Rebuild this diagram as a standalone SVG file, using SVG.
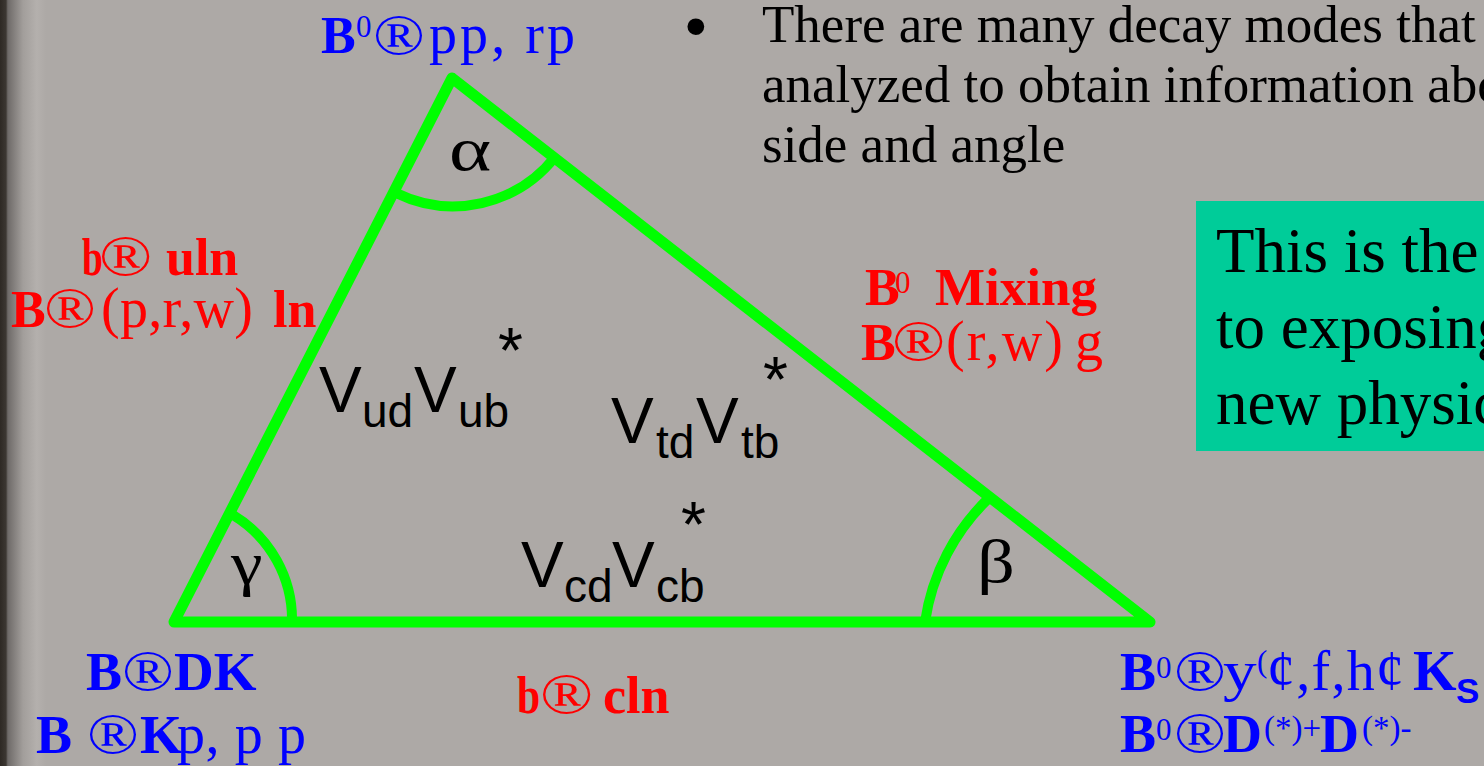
<svg xmlns="http://www.w3.org/2000/svg" width="1484" height="766" viewBox="0 0 1484 766">
<defs>
<linearGradient id="edge" x1="0" y1="0" x2="1" y2="0">
<stop offset="0" stop-color="#2e2924"/>
<stop offset="0.13" stop-color="#3c3732"/>
<stop offset="0.17" stop-color="#6e6a68"/>
<stop offset="0.5" stop-color="#a29e9b"/>
<stop offset="0.8" stop-color="#b4b0ad"/>
<stop offset="1" stop-color="#ADA9A6"/>
</linearGradient>
<style>
.tri{fill:none;stroke:#00FF00;stroke-width:11;stroke-linejoin:round;stroke-linecap:round}
.arc{fill:none;stroke:#00FF00;stroke-width:10}
.serif{font-family:"Liberation Serif","Times New Roman",serif}
.sans{font-family:"Liberation Sans",Arial,sans-serif}
.b{font-weight:bold}
.blue{fill:#0000FF}
.red{fill:#FF0000}
.blk{fill:#000000}
.lbl{font-size:56px}
.reg{font-size:56px}
.bb{font-size:52px;font-weight:bold}
.sup{font-size:31px}
.V{font-size:64px}
.sub{font-size:46px}
.greek{font-size:62px}
.body{font-size:53px}
.box{font-size:63px}
</style>
</defs>
<rect x="0" y="0" width="1484" height="766" fill="#ADA9A6"/>
<rect x="0" y="0" width="46" height="766" fill="url(#edge)"/>

<g id="bullet-text" class="serif blk">
<text class="sans" x="685" y="47" style="font-size:62px">•</text>
<text class="body" x="762" y="42">There are many decay modes that</text>
<text class="body" x="762" y="102">analyzed to obtain information abo</text>
<text class="body" x="762" y="162">side and angle</text>
</g>

<g id="note-box">
<rect x="1196" y="201" width="300" height="250" fill="#00CC99"/>
<text class="serif blk box" x="1216" y="272">This is the</text>
<text class="serif blk box" x="1216" y="348">to exposing</text>
<text class="serif blk box" x="1216" y="424">new physic</text>
</g>

<g id="connectors">
<polygon class="tri" points="452,78 1150,622 174,622"/>
<path id="arc-alpha" class="arc" d="M396,193 A130,130 0 0 0 555,157"/>
<path id="arc-gamma" class="arc" d="M233,515 A122,122 0 0 1 292,622"/>
<path id="arc-beta" class="arc" d="M925,622 A215,215 0 0 1 990,497"/>
</g>

<g id="angle-alpha"><text class="serif blk greek" transform="translate(449,170) scale(1.3,1)">α</text></g>
<g id="angle-gamma"><text class="serif blk greek" transform="translate(231,584) scale(1.15,1)">γ</text></g>
<g id="angle-beta"><text class="serif blk greek" transform="translate(977,582) scale(1.2,1)">β</text></g>

<g id="side-left" class="sans blk">
<text class="V" x="319" y="412">V</text>
<text class="sub" x="362" y="427">ud</text>
<text class="V" x="414" y="412">V</text>
<text class="sub" x="458" y="427">ub</text>
<text class="V" x="498" y="373">*</text>
</g>
<g id="side-right" class="sans blk">
<text class="V" x="611" y="443">V</text>
<text class="sub" x="656" y="458">td</text>
<text class="V" x="696" y="443">V</text>
<text class="sub" x="741" y="458">tb</text>
<text class="V" x="763" y="402">*</text>
</g>
<g id="side-bottom" class="sans blk">
<text class="V" x="521" y="587">V</text>
<text class="sub" x="564" y="602">cd</text>
<text class="V" x="612" y="587">V</text>
<text class="sub" x="656" y="602">cb</text>
<text class="V" x="681" y="547">*</text>
</g>

<g id="label-top" class="serif blue">
<text class="bb" x="321" y="53">B</text>
<text class="sup" x="356" y="37">0</text>
<text class="reg" transform="translate(373,54) scale(1.22,1)">®</text>
<text class="lbl" x="429" y="53" textLength="146" lengthAdjust="spacing">pp, rp</text>
</g>

<g id="label-left" class="serif red">
<text class="bb" transform="translate(82,275) scale(0.72,1)">b</text>
<text class="reg" transform="translate(99,275) scale(1.25,1)">®</text>
<text class="bb" x="166" y="275">uln</text>
<text class="bb" x="11" y="327">B</text>
<text class="reg" transform="translate(44,327) scale(1.22,1)">®</text>
<text class="lbl" x="101" y="327" textLength="152" lengthAdjust="spacing">(p,r,w)</text>
<text class="bb" x="273" y="327">ln</text>
</g>

<g id="label-right" class="serif red">
<text class="bb" x="865" y="305">B</text>
<text class="sup" x="895" y="293">0</text>
<text class="bb" x="935" y="305" textLength="162" lengthAdjust="spacingAndGlyphs">Mixing</text>
<text class="bb" x="861" y="360">B</text>
<text class="reg" transform="translate(892,360) scale(1.25,1)">®</text>
<text class="lbl" x="946" y="360" textLength="117" lengthAdjust="spacing">(r,w)</text>
<text class="lbl" x="1075" y="360">g</text>
</g>

<g id="label-bottom-left" class="serif blue">
<text class="bb" x="86" y="690" style="font-size:54px">B</text>
<text class="reg" transform="translate(122,690) scale(1.22,1)">®</text>
<text class="bb" x="174" y="690" style="font-size:55px">DK</text>
<text class="bb" x="36" y="753" style="font-size:54px">B</text>
<text class="reg" transform="translate(87,753) scale(1.22,1)">®</text>
<text class="bb" x="140" y="753" style="font-size:54px">K</text>
<text class="lbl" x="177" y="753" textLength="129" lengthAdjust="spacing">p, p p</text>
</g>

<g id="label-bottom" class="serif red">
<text class="bb" transform="translate(517,713) scale(0.8,1)">b</text>
<text class="reg" transform="translate(540,713) scale(1.25,1)">®</text>
<text class="bb" x="603" y="713">cln</text>
</g>

<g id="label-bottom-right" class="serif blue">
<text class="bb" x="1120" y="690" style="font-size:54px">B</text>
<text class="sup" x="1156" y="678">0</text>
<text class="reg" transform="translate(1174,690) scale(1.22,1)">®</text>
<text class="lbl" transform="translate(1223,690) scale(1.2,1)">y</text>
<text class="sup" x="1257" y="672">(</text>
<text class="lbl" x="1267" y="690" textLength="137" lengthAdjust="spacing">¢,f,h¢</text>
<text class="b" x="1413" y="690" style="font-size:56px">K</text>
<text class="sans b" x="1456" y="703" style="font-size:35px">S</text>
<text class="bb" x="1120" y="752" style="font-size:54px">B</text>
<text class="sup" x="1156" y="740">0</text>
<text class="reg" transform="translate(1174,752) scale(1.22,1)">®</text>
<text class="bb" x="1223" y="752" style="font-size:54px">D</text>
<text x="1264" y="739" style="font-size:33px">(*)+</text>
<text class="bb" x="1320" y="752" style="font-size:54px">D</text>
<text x="1362" y="739" style="font-size:33px">(*)-</text>
</g>
</svg>
